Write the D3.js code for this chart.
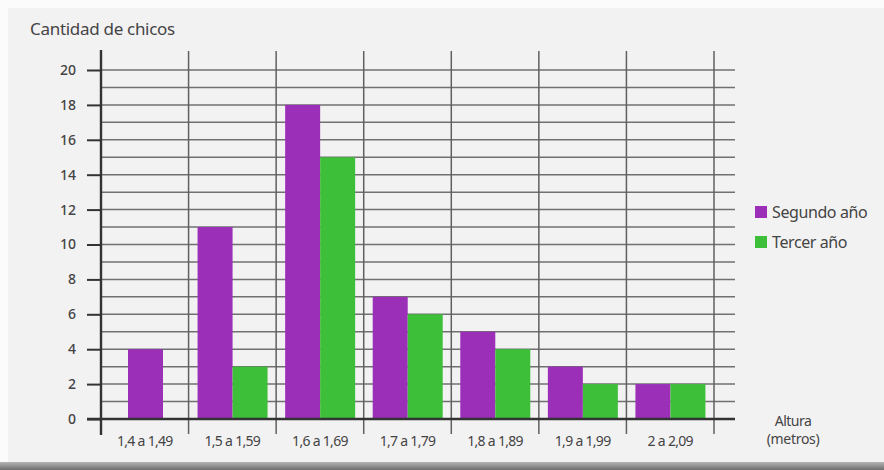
<!DOCTYPE html>
<html>
<head>
<meta charset="utf-8">
<script src="https://cdn.jsdelivr.net/npm/d3@7"></script>
<style>
  body { margin: 0; background: #ffffff; }
  text { font-family: "Noto Sans", sans-serif; fill: #444; }
</style>
</head>
<body>
<div id="chart"></div>
<script>
// data
var categories = ["1,4 a 1,49", "1,5 a 1,59", "1,6 a 1,69", "1,7 a 1,79", "1,8 a 1,89", "1,9 a 1,99", "2 a 2,09"];
var seriesNames = ["Segundo año", "Tercer año"];
var segundo = [4, 11, 18, 7, 5, 3, 2];
var tercero = [0, 3, 15, 6, 4, 2, 2];
var yTicks = [0, 2, 4, 6, 8, 10, 12, 14, 16, 18, 20];
var colors = ["#9b2fb8", "#3dbf3a"];

var width = 884, height = 470;

var svg = d3.select("#chart").append("svg")
    .attr("width", width)
    .attr("height", height);

//card background
var grad = svg.append("defs").append("linearGradient").attr("id", "edge")
    .attr("x1", 0).attr("y1", 0).attr("x2", 0).attr("y2", 1);
grad.append("stop").attr("offset", "0%").attr("stop-color", "#b5b5b5");
grad.append("stop").attr("offset", "100%").attr("stop-color", "#6e6e6e");
svg.append("rect").attr("x", 0).attr("y", 0).attr("width", width).attr("height", height).attr("fill", "#fbfbfb");
svg.append("rect").attr("x", 8).attr("y", 8).attr("width", width - 8).attr("height", 454).attr("fill", "#f3f2f3");
svg.append("rect").attr("x", 0).attr("y", 462).attr("width", width).attr("height", 8).attr("fill", "url(#edge)");

var x = d3.scaleBand().domain(categories).range([101, 714]);
var y = d3.scaleLinear().domain([0, 20]).range([419, 70]);

var grid = svg.append("g");

//horizontal grid every unit
grid.selectAll("line.h")
    .data(d3.range(1, 21))
    .enter().append("line")
    .attr("x1", 101).attr("x2", 735)
    .attr("y1", function(d) { return y(d); })
    .attr("y2", function(d) { return y(d); })
    .attr("stroke", "#707070").attr("stroke-width", 1.5);

//vertical lines between groups
var edges = categories.map(function(c) { return x(c); }).concat([x.range()[1]]);
grid.selectAll("line.v")
    .data(edges.slice(1))
    .enter().append("line")
    .attr("x1", function(d) { return d; }).attr("x2", function(d) { return d; })
    .attr("y1", 51).attr("y2", 434)
    .attr("stroke", "#606060").attr("stroke-width", 1.5);

//bars
var groups = svg.selectAll("g.grp")
    .data(categories)
    .enter().append("g")
    .attr("transform", function(d) { return "translate(" + x(d) + ",0)"; });

groups.each(function(c, i) {
    var vals = [segundo[i], tercero[i]];
    var shown = seriesNames.filter(function(s, j) { return vals[j] > 0; });
    var inner = d3.scaleBand().domain(shown)
        .range(shown.length > 1 ? [9, 79] : [27, 62]);
    d3.select(this).selectAll("rect")
        .data(shown)
        .enter().append("rect")
        .attr("x", function(s) { return inner(s); })
        .attr("width", inner.bandwidth())
        .attr("y", function(s) { return y(vals[seriesNames.indexOf(s)]); })
        .attr("height", function(s) { return y(0) - y(vals[seriesNames.indexOf(s)]); })
        .attr("fill", function(s) { return colors[seriesNames.indexOf(s)]; });
});

//y axis
var yAxis = d3.axisLeft(y).tickValues(yTicks).tickSize(14).tickPadding(11);
var gy = svg.append("g").attr("transform", "translate(101,0)").call(yAxis);
gy.select(".domain").remove();
gy.selectAll(".tick line").attr("stroke", "#333").attr("stroke-width", 2);
gy.selectAll(".tick text").style("font-size", "14px").style("font-weight", "500").attr("fill", "#3a3a3a");
svg.append("line").attr("x1", 101).attr("x2", 101).attr("y1", 50).attr("y2", 435)
    .attr("stroke", "#333").attr("stroke-width", 2.4);

//x axis
svg.append("line").attr("x1", 87).attr("x2", 735).attr("y1", y(0)).attr("y2", y(0))
    .attr("stroke", "#333").attr("stroke-width", 2.4);
svg.selectAll("text.cat")
    .data(categories)
    .enter().append("text")
    .attr("x", function(d) { return x(d) + x.bandwidth() / 2; })
    .attr("y", 446)
    .attr("text-anchor", "middle")
    .style("font-size", "14px")
    .style("letter-spacing", "-0.7px")
    .text(function(d) { return d; });

//titles
svg.append("text").attr("x", 30).attr("y", 35).style("font-size", "17px").style("letter-spacing", "-0.3px").text("Cantidad de chicos");
svg.append("text").attr("x", 793).attr("y", 426).attr("text-anchor", "middle").style("font-size", "14px").style("letter-spacing", "-0.5px").text("Altura");
svg.append("text").attr("x", 793).attr("y", 444).attr("text-anchor", "middle").style("font-size", "14px").style("letter-spacing", "-0.3px").text("(metros)");

//legend
var legend = svg.selectAll("g.leg")
    .data(seriesNames)
    .enter().append("g")
    .attr("transform", function(d, i) { return "translate(755," + (206 + i * 30) + ")"; });
legend.append("rect").attr("width", 12).attr("height", 12)
    .attr("fill", function(d, i) { return colors[i]; });
legend.append("text").attr("x", 17).attr("y", 12).style("font-size", "16px").style("letter-spacing", "-0.4px")
    .text(function(d) { return d; });
</script>
</body>
</html>
